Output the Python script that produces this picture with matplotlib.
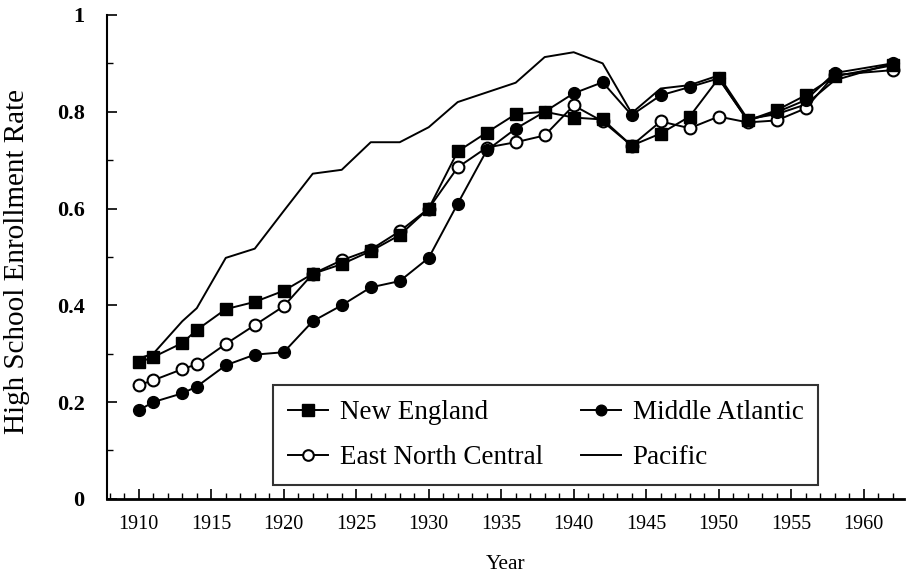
import numpy as np
import matplotlib.pyplot as plt
from matplotlib.ticker import MultipleLocator

plt.rcParams['font.family'] = ['Liberation Serif', 'DejaVu Serif']

# Years with observations
years = [1910, 1911, 1913, 1914, 1916, 1918, 1920, 1922, 1924, 1926, 1928,
         1930, 1932, 1934, 1936, 1938, 1940, 1942, 1944, 1946, 1948, 1950,
         1952, 1954, 1956, 1958, 1962]

new_england = [0.282, 0.293, 0.322, 0.349, 0.392, 0.407, 0.430, 0.465, 0.485,
               0.512, 0.545, 0.600, 0.718, 0.757, 0.795, 0.800, 0.788, 0.784,
               0.730, 0.755, 0.790, 0.869, 0.782, 0.803, 0.834, 0.873, 0.896]
middle_atlantic = [0.183, 0.200, 0.218, 0.232, 0.276, 0.298, 0.303, 0.367,
                   0.400, 0.437, 0.450, 0.498, 0.610, 0.720, 0.765, 0.800,
                   0.838, 0.861, 0.793, 0.834, 0.851, 0.869, 0.782, 0.799,
                   0.824, 0.880, 0.900]
east_north_central = [0.235, 0.245, 0.268, 0.278, 0.320, 0.359, 0.398, 0.465,
                      0.493, 0.515, 0.553, 0.600, 0.685, 0.726, 0.737, 0.751,
                      0.813, 0.780, 0.730, 0.780, 0.766, 0.790, 0.778, 0.782,
                      0.807, 0.876, 0.886]
pacific = [0.290, 0.300, 0.367, 0.394, 0.498, 0.517, 0.595, 0.672, 0.680,
           0.737, 0.737, 0.768, 0.820, 0.840, 0.860, 0.913, 0.923, 0.900,
           0.797, 0.848, 0.855, 0.875, 0.785, 0.795, 0.815, 0.865, 0.900]

fig = plt.figure(figsize=(9.06, 5.76), dpi=100)
ax = fig.add_axes([0.118, 0.134, 0.88, 0.84])

lw = 1.4
ax.plot(years, pacific, color='black', lw=lw, label='Pacific')
ax.plot(years, east_north_central, color='black', lw=lw, marker='o', ms=8.5,
        mfc='white', mew=1.5, label='East North Central')
ax.plot(years, middle_atlantic, color='black', lw=lw, marker='o', ms=8.5,
        label='Middle Atlantic')
ax.plot(years, new_england, color='black', lw=lw, marker='s', ms=9,
        label='New England')

ax.set_xlim(1907.8, 1962.8)
ax.set_ylim(0, 1)
ax.spines['top'].set_visible(False)
ax.spines['right'].set_visible(False)
ax.spines['left'].set_linewidth(1.5)
ax.spines['bottom'].set_linewidth(2)

ax.xaxis.set_major_locator(MultipleLocator(5))
ax.xaxis.set_minor_locator(MultipleLocator(1))
ax.yaxis.set_major_locator(MultipleLocator(0.2))
ax.yaxis.set_minor_locator(MultipleLocator(0.1))
ax.tick_params(direction='in', which='major', length=7, width=1.2)
ax.tick_params(axis='x', which='major', pad=12, labelsize=14.5)
ax.tick_params(axis='y', which='major', pad=16, labelsize=16)
ax.tick_params(direction='in', which='minor', length=4, width=1)
ax.set_yticks([0, 0.2, 0.4, 0.6, 0.8, 1.0])
ax.set_yticklabels(['0', '0.2', '0.4', '0.6', '0.8', '1'], fontweight='bold')

ax.set_xlabel('Year', fontsize=15.5, labelpad=15)
ax.set_ylabel('High School Enrollment Rate', fontsize=21)
ax.yaxis.set_label_coords(-0.097, 0.49)

handles, labels = ax.get_legend_handles_labels()
order = [3, 1, 2, 0]
leg = ax.legend([handles[i] for i in order], [labels[i] for i in order],
                ncol=2, loc='lower left', bbox_to_anchor=(0.208, 0.028),
                borderaxespad=0, fontsize=19.5, frameon=True, fancybox=False,
                edgecolor='black', handlelength=1.5, handletextpad=0.42,
                columnspacing=1.4, borderpad=0.55, labelspacing=0.75,
                markerscale=0.9)
leg.get_frame().set_linewidth(1.5)

fig.savefig('out.png', dpi=100)
